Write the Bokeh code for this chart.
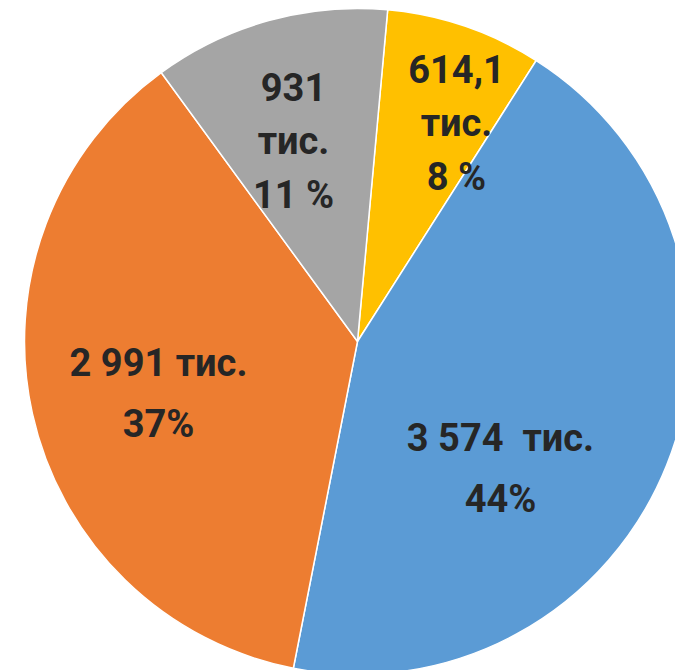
import math
from bokeh.plotting import figure
from bokeh.models import Range1d, ColumnDataSource
from bokeh.core.properties import value
from bokeh.embed import file_html
from bokeh.resources import INLINE

# data (clockwise from the top, Excel order)
categories = ["yellow", "blue", "orange", "gray"]
values = [614.1, 3574, 2991, 931]
label_value = ["614,1\nтис.", "3 574\u00a0\u00a0тис.", "2 991 тис.", "931\nтис."]
label_pct = ["8 %", "44%", "37%", "11 %"]
colors = ["#FFC000", "#5B9BD5", "#ED7D31", "#A5A5A5"]

# layout (pixel-like coordinates, y upwards = -screen y)
cx, cy, R = 357, -341, 333
first_slice_deg = 5.2
label_pos = [(456, -123), (500, -468), (158, -393), (293, -141)]

W, H = 675, 670
p = figure(width=W, height=H, output_backend="svg", toolbar_location=None,
           x_range=Range1d(0, W), y_range=Range1d(-H, 0),
           min_border=0, outline_line_color=None, background_fill_color="white",
           border_fill_color="white")
p.axis.visible = False
p.grid.visible = False

total = sum(values)
starts, ends = [], []
cum = 0.0
for v in values:
    a0 = math.pi / 2 - math.radians(first_slice_deg) - cum / total * 2 * math.pi
    cum += v
    a1 = math.pi / 2 - math.radians(first_slice_deg) - cum / total * 2 * math.pi
    starts.append(a0)
    ends.append(a1)

src = ColumnDataSource(dict(x=[cx] * 4, y=[cy] * 4, s=starts, e=ends, c=colors))
p.wedge(x="x", y="y", radius=R, start_angle="s", end_angle="e", direction="clock",
        fill_color="c", line_color="white", line_width=1.5, source=src)

two_t, two_x, two_y, three_t, three_x, three_y = [], [], [], [], [], []
for (lx, ly), lv, lp in zip(label_pos, label_value, label_pct):
    t = lv + "\n" + lp
    if lv.count("\n"):
        three_t.append(t); three_x.append(lx); three_y.append(ly)
    else:
        two_t.append(t); two_x.append(lx); two_y.append(ly)

common = dict(text_font=value("Roboto"), text_font_style="bold",
              text_font_size="38px", text_color="#262626", text_align="center",
              text_baseline="middle")
p.text(x=three_x, y=three_y, text=three_t, text_line_height=1.22, **common)
p.text(x=two_x, y=two_y, text=two_t, text_line_height=1.38, **common)

open("out.html", "w").write(file_html(p, INLINE))
